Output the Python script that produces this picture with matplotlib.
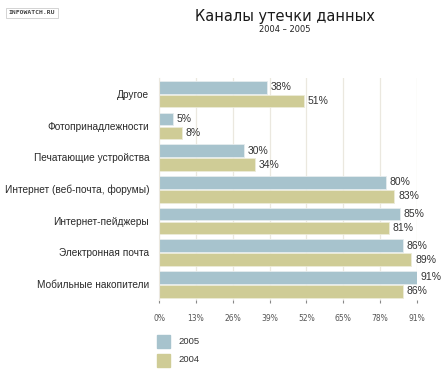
import numpy as np
import matplotlib
matplotlib.use("Agg")
import matplotlib.pyplot as plt
from matplotlib.patches import Rectangle

# data, top to bottom
categories = ['Другое', 'Фотопринадлежности', 'Печатающие устройства',
              'Интернет (веб-почта, форумы)', 'Интернет-пейджеры',
              'Электронная почта', 'Мобильные накопители']
v2005 = [38, 5, 30, 80, 85, 86, 91]
v2004 = [51, 8, 34, 83, 81, 89, 86]
ticks = [0, 13, 26, 39, 52, 65, 78, 91]

c2005 = '#a7c3cd'
c2004 = '#cfcc96'

plt.rcParams['font.family'] = ['Liberation Sans', 'DejaVu Sans']
fig = plt.figure(figsize=(4.46, 3.70), dpi=100)
ax = fig.add_axes([159/446, 1-300/370, 258/446, 222/370])

y = np.arange(len(categories))
ax.barh(y + 0.29, v2005, height=0.4, color=c2005, edgecolor='#e6ecee', linewidth=0.6, zorder=2)
ax.barh(y + 0.73, v2004, height=0.4, color=c2004, edgecolor='#ecebd9', linewidth=0.6, zorder=2)
for i in range(len(categories)):
    ax.text(v2005[i] + 1.3, y[i] + 0.29, '%d%%' % v2005[i], va='center', ha='left',
            fontsize=7.5, color='#333333')
    ax.text(v2004[i] + 1.3, y[i] + 0.73, '%d%%' % v2004[i], va='center', ha='left',
            fontsize=7.5, color='#333333')

ax.set_xlim(0, 91)
ax.set_ylim(7, 0)
ax.set_yticks(y + 0.5)
ax.set_yticklabels(categories, fontsize=7.3, color='#2a2a2a')
ax.tick_params(axis='y', length=0, pad=7)
ax.set_xticks(ticks)
ax.set_xticklabels(['%d%%' % t for t in ticks], fontsize=5.5, color='#555555',
                   family='DejaVu Sans')
ax.tick_params(axis='x', length=2, width=0.8, color='#888888', pad=8, direction='out')
ax.xaxis.grid(True, color='#ebe8df', linewidth=0.9, zorder=0)
ax.set_axisbelow(True)
for s in ['top', 'right', 'bottom']:
    ax.spines[s].set_visible(False)
ax.spines['left'].set_color('#ebe8df')

# titles
fig.text(285/446, 1-16/370, 'Каналы утечки данных', ha='center', va='center',
         fontsize=10.5, family='DejaVu Sans', color='#1a1a1a')
fig.text(285/446, 1-29/370, '2004 – 2005', ha='center', va='center',
         fontsize=6, family='DejaVu Sans', color='#222222')
fig.text(32/446, 1-13/370, 'INFOWATCH.RU', ha='center', va='center', fontsize=4.6,
         family='DejaVu Sans Mono', color='#444444', weight='bold',
         bbox=dict(boxstyle='square,pad=0.4', fc='white', ec='#cccccc', lw=0.6))

# legend
fig.patches.append(Rectangle((157/446, 1-348/370), 13/446, 13/370, transform=fig.transFigure,
                             color=c2005, figure=fig))
fig.patches.append(Rectangle((157/446, 1-367/370), 13/446, 13/370, transform=fig.transFigure,
                             color=c2004, figure=fig))
fig.text(178/446, 1-341/370, '2005', va='center', fontsize=6.8, color='#333333')
fig.text(178/446, 1-360/370, '2004', va='center', fontsize=6.8, color='#333333')

fig.savefig('out.png', dpi=100)
